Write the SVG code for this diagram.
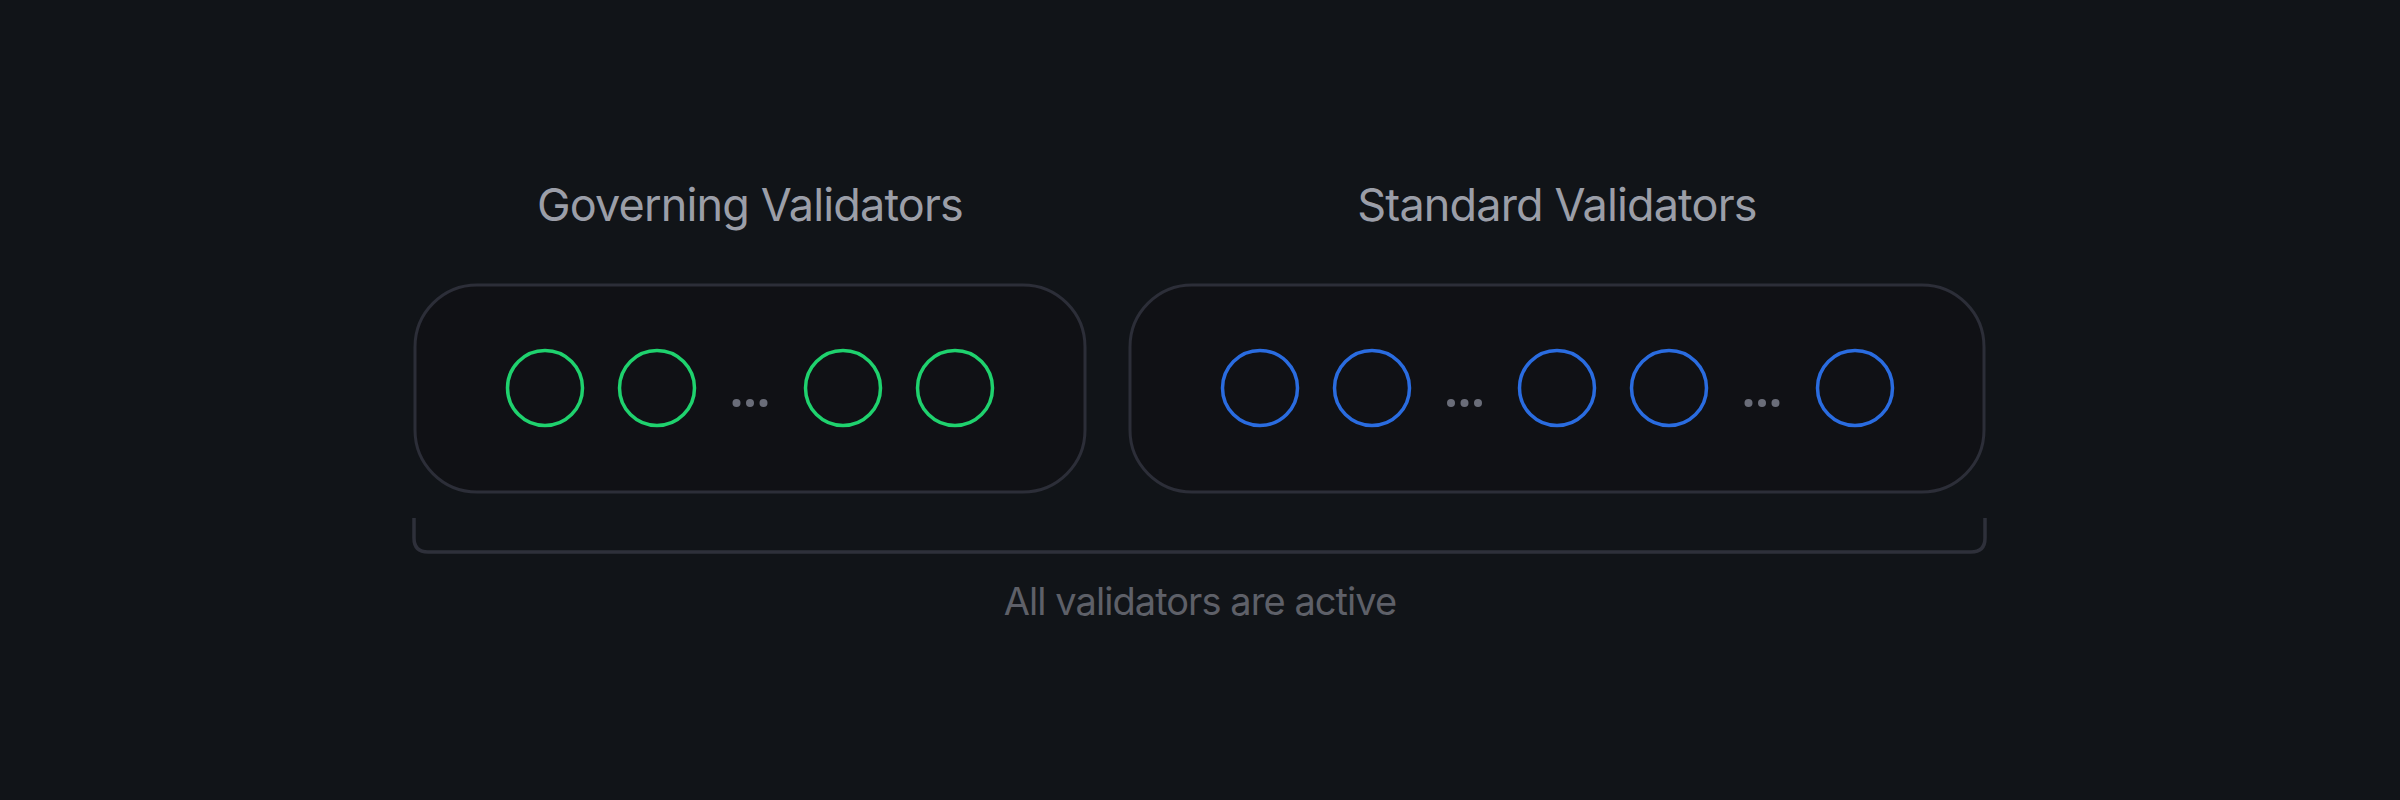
<svg xmlns="http://www.w3.org/2000/svg" width="2400" height="800" viewBox="0 0 2400 800">
<style>
.bg{fill:#111418}
.box{fill:#101115;stroke:#2c2e38;stroke-width:3}
.g{fill:none;stroke:#1fd26e;stroke-width:3.5}
.b{fill:none;stroke:#2a6ce0;stroke-width:3.5}
.dot{fill:#6a6d79}
.title{font-family:Inter,"Liberation Sans",sans-serif;font-size:45px;fill:#9b9ea8;text-anchor:middle;letter-spacing:-0.85px}
.note{font-family:Inter,"Liberation Sans",sans-serif;font-size:38px;fill:#5e6068;text-anchor:middle;letter-spacing:-0.95px}
.brk{fill:none;stroke:#2e303a;stroke-width:3.5}
</style>
<defs>
<g id="dots"><circle cx="-13.5" cy="0" r="4"/><circle cx="0" cy="0" r="4"/><circle cx="13.5" cy="0" r="4"/></g>
</defs>
<rect class="bg" x="0" y="0" width="2400" height="800"/>
<g id="governing">
<text class="title" x="750" y="221">Governing Validators</text>
<rect class="box" x="415" y="285" width="670" height="207" rx="62"/>
<circle class="g" cx="545" cy="388" r="37.5"/>
<circle class="g" cx="657" cy="388" r="37.5"/>
<use href="#dots" class="dot" x="750" y="403"/>
<circle class="g" cx="843" cy="388" r="37.5"/>
<circle class="g" cx="955" cy="388" r="37.5"/>
</g>
<g id="standard">
<text class="title" x="1557" y="221">Standard Validators</text>
<rect class="box" x="1130" y="285" width="854" height="207" rx="62"/>
<circle class="b" cx="1260" cy="388" r="37.5"/>
<circle class="b" cx="1372" cy="388" r="37.5"/>
<use href="#dots" class="dot" x="1464.5" y="403"/>
<circle class="b" cx="1557" cy="388" r="37.5"/>
<circle class="b" cx="1669" cy="388" r="37.5"/>
<use href="#dots" class="dot" x="1762" y="403"/>
<circle class="b" cx="1855" cy="388" r="37.5"/>
</g>
<g id="connectors">
<path class="brk" d="M414 518 V538 Q414 552 428 552 H1971 Q1985 552 1985 538 V518"/>
</g>
<g id="all-active">
<text class="note" x="1200" y="615">All validators are active</text>
</g>
</svg>
